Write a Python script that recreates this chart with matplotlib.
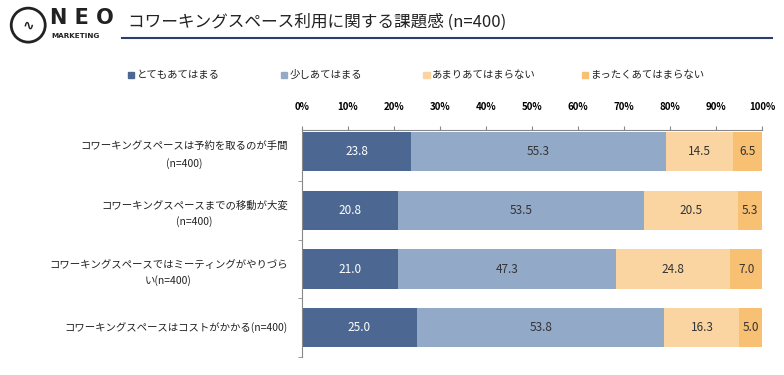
import matplotlib
matplotlib.use("Agg")
import matplotlib.pyplot as plt
from matplotlib.patches import Ellipse
import numpy as np

plt.rcParams['font.family'] = ['Noto Sans CJK JP', 'DejaVu Sans']

# data
categories = [
    "コワーキングスペースは予約を取るのが手間\n(n=400)",
    "コワーキングスペースまでの移動が大変\n(n=400)",
    "コワーキングスペースではミーティングがやりづら\nい(n=400)",
    "コワーキングスペースはコストがかかる(n=400)",
]
series_names = ["とてもあてはまる", "少しあてはまる", "あまりあてはまらない", "まったくあてはまらない"]
very = [23.8, 20.8, 21.0, 25.0]
somewhat = [55.3, 53.5, 47.3, 53.8]
not_much = [14.5, 20.5, 24.8, 16.3]
not_at_all = [6.5, 5.3, 7.0, 5.0]
xtick_labels = ["0%", "10%", "20%", "30%", "40%", "50%", "60%", "70%", "80%", "90%", "100%"]

colors = ["#4c6892", "#93a9c8", "#fad5a1", "#f8c072"]
label_colors = ["white", "#333333", "#333333", "#333333"]

fig = plt.figure(figsize=(7.84, 3.75), dpi=100)
ax = fig.add_axes([0.385, 0.048, 0.587, 0.605])

y = np.arange(len(categories))
left = np.zeros(len(categories))
for vals, c, lc, name in zip([very, somewhat, not_much, not_at_all], colors, label_colors, series_names):
    vals = np.array(vals)
    ax.barh(y, vals, left=left, height=0.67, color=c, label=name)
    for yi, l, v in zip(y, left, vals):
        ax.text(l + v / 2, yi, f"{v:.1f}", ha="center", va="center", fontsize=8.5, color=lc)
    left += vals

ax.set_xlim(0, 100)
ax.set_ylim(3.35, -0.37)
ax.xaxis.tick_top()
ax.set_xticks(np.arange(0, 101, 10))
ax.set_xticklabels(xtick_labels, fontsize=7, fontweight="bold")
ax.tick_params(axis="x", length=3, color="#888888", pad=10)
ax.set_yticks(y)
ax.set_yticklabels(categories, fontsize=7.5, color="#222222", linespacing=1.6, multialignment="center")
ax.tick_params(axis="y", which="major", length=0, pad=10)
ax.set_yticks(np.arange(0.5, 4, 1), minor=True)
ax.tick_params(axis="y", which="minor", length=3, color="#888888")
for s in ["right", "bottom"]:
    ax.spines[s].set_visible(False)
ax.spines["top"].set_color("#888888")
ax.spines["left"].set_color("#888888")

# legend
handles, labels = ax.get_legend_handles_labels()
leg_x = [0.163, 0.358, 0.54, 0.742]
for h, lab, lx, c in zip(handles, labels, leg_x, colors):
    fig.patches.append(plt.Rectangle((lx, 0.792), 0.008, 0.017, color=c, transform=fig.transFigure))
    fig.text(lx + 0.011, 0.8, lab, fontsize=7.5, va="center", color="#222222")

# header
fig.add_artist(Ellipse((0.036, 0.933), 34 / 784, 34 / 375, transform=fig.transFigure, fill=False, lw=2, color="#222222"))
fig.text(0.036, 0.933, "∿", fontsize=10, ha="center", va="center", fontweight="bold", color="#222222", family="DejaVu Sans")
fig.text(0.064, 0.952, "N E O", fontsize=15, fontweight="bold", va="center", color="#222222", family="DejaVu Sans")
fig.text(0.065, 0.903, "MARKETING", fontsize=5.2, fontweight="bold", va="center", color="#222222", family="DejaVu Sans")
fig.text(0.163, 0.94, "コワーキングスペース利用に関する課題感 (n=400)", fontsize=12, va="center", color="#222222")
fig.add_artist(plt.Line2D([0.156, 0.985], [0.898, 0.898], transform=fig.transFigure, color="#2c3e6e", lw=1.5))

fig.savefig("out.png", dpi=100)
